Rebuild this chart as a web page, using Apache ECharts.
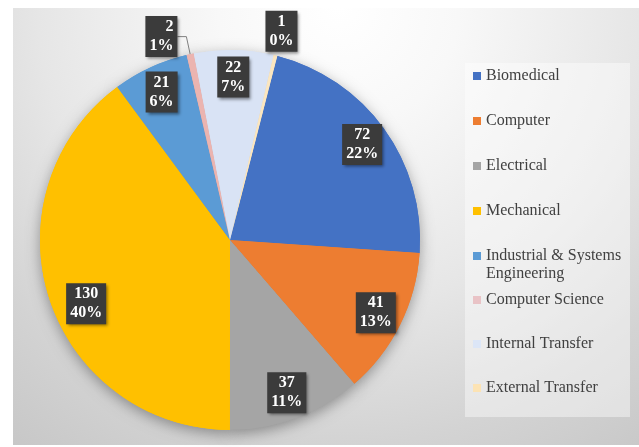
<!DOCTYPE html>
<html>
<head>
<meta charset="utf-8">
<script src="https://cdn.jsdelivr.net/npm/echarts@6/dist/echarts.min.js"></script>
<style>
html,body{margin:0;padding:0;background:#ffffff;}
#chart{width:639px;height:447px;}
</style>
</head>
<body>
<div id="chart"></div>
<script>
// ---- Data ----
const categories = ['Biomedical', 'Computer', 'Electrical', 'Mechanical',
  'Industrial & Systems\nEngineering', 'Computer Science', 'Internal Transfer', 'External Transfer'];
const counts = [72, 41, 37, 130, 21, 2, 22, 1];

// ---- Style ----
const colors = ['#4472C4', '#ED7D31', '#A5A5A5', '#FFC000', '#5B9BD5', '#EBB4B0', '#D9E3F5', '#FBE6C0'];
const legendColors = ['#4472C4', '#ED7D31', '#A5A5A5', '#FFC000', '#5B9BD5', '#E9C3C6', '#DCE6F7', '#FCE3B4'];
const serif = "'Liberation Serif', 'Times New Roman', serif";

const chart = echarts.init(document.getElementById('chart'), null, {renderer: 'canvas'});

const pieCenter = [230, 240];
const pieR = 190;
const startAngle = 75.6;

const labelBox = {
  show: true,
  formatter: '{c}\n{d}%',
  color: '#ffffff',
  fontFamily: serif,
  fontWeight: 'bold',
  fontSize: 16,
  lineHeight: 19,
  backgroundColor: '#3B3B3B',
  padding: [2, 4, 1, 4],
  shadowColor: 'rgba(0,0,0,0.45)',
  shadowBlur: 3,
  shadowOffsetX: 2,
  shadowOffsetY: 2
};

const baseData = categories.map((name, i) => ({
  name: name,
  value: counts[i],
  itemStyle: {color: colors[i]}
}));

// main series: only the small "Computer Science" slice has an outside label with a leader line
const mainData = baseData.map((d, i) => {
  const o = {name: d.name, value: d.value, itemStyle: d.itemStyle};
  if (d.name === 'Computer Science') {
    o.label = Object.assign({}, labelBox, {position: 'outside', distanceToLabelLine: 0});
    o.labelLine = {show: true, length: 18, length2: 9, lineStyle: {color: '#7F7F7F', width: 1}};
  }
  return o;
});

const innerLabelNames = ['Biomedical', 'Computer', 'Electrical', 'Mechanical',
  'Industrial & Systems\nEngineering', 'Internal Transfer'];

const innerLabelData = baseData.map((d) => {
  const o = {name: d.name, value: d.value, itemStyle: {color: 'rgba(0,0,0,0)'}};
  if (innerLabelNames.indexOf(d.name) >= 0) {
    o.label = Object.assign({}, labelBox, {position: 'inside'});
    if (d.name === 'Mechanical') o.label.offset = [11, 13];
  } else {
    o.label = {show: false};
  }
  return o;
});

const outerLabelData = baseData.map((d) => {
  const o = {name: d.name, value: d.value, itemStyle: {color: 'rgba(0,0,0,0)'}};
  if (d.name === 'External Transfer') {
    o.label = Object.assign({}, labelBox, {position: 'inside'});
  } else {
    o.label = {show: false};
  }
  return o;
});

function legendData(names) {
  return names.map((n) => ({
    name: n,
    itemStyle: {color: legendColors[categories.indexOf(n)]}
  }));
}

const legendText = {fontFamily: serif, fontSize: 16, lineHeight: 18, color: '#404040'};

const option = {
  animation: false,
  backgroundColor: '#ffffff',
  graphic: {
    elements: [
      {
        type: 'rect', z: -100, silent: true,
        shape: {x: 13, y: 8, width: 626, height: 437},
        style: {
          fill: {
            type: 'radial', x: 0.52, y: 0.0, r: 1.25,
            colorStops: [
              {offset: 0, color: '#ffffff'},
              {offset: 0.22, color: '#f8f8f8'},
              {offset: 0.55, color: '#e6e6e6'},
              {offset: 0.8, color: '#d3d3d3'},
              {offset: 1, color: '#c7c7c7'}
            ]
          }
        }
      },
      {
        type: 'rect', z: -90, silent: true,
        shape: {x: 465, y: 63, width: 165, height: 354},
        style: {fill: 'rgba(255,255,255,0.42)'}
      }
    ]
  },
  legend: [
    {
      orient: 'vertical', left: 473, top: 67, padding: 0,
      itemWidth: 8, itemHeight: 8, itemGap: 27, icon: 'rect',
      selectedMode: false,
      textStyle: legendText,
      data: legendData(categories.slice(0, 4))
    },
    {
      orient: 'vertical', left: 473, top: 247, padding: 0,
      itemWidth: 8, itemHeight: 26, itemGap: 0,
      icon: 'path://M0,0h8v8h-8zM0,26h0.01v0.01h-0.01z',
      selectedMode: false,
      textStyle: legendText,
      data: legendData(categories.slice(4, 5))
    },
    {
      orient: 'vertical', left: 473, top: 291, padding: 0,
      itemWidth: 8, itemHeight: 8, itemGap: 26, icon: 'rect',
      selectedMode: false,
      textStyle: legendText,
      data: legendData(categories.slice(5))
    }
  ],
  series: [
    {
      // shadow layer beneath the pie
      type: 'pie', z: 1, silent: true,
      center: pieCenter, radius: pieR, startAngle: startAngle, clockwise: true,
      label: {show: false}, labelLine: {show: false},
      itemStyle: {shadowBlur: 14, shadowColor: 'rgba(0,0,0,0.35)', shadowOffsetY: 4, borderWidth: 0},
      legendHoverLink: false,
      data: baseData.map((d) => ({name: d.name, value: d.value, itemStyle: d.itemStyle}))
    },
    {
      type: 'pie', z: 2, silent: true,
      center: pieCenter, radius: pieR, startAngle: startAngle, clockwise: true,
      percentPrecision: 0,
      avoidLabelOverlap: false,
      label: {show: false}, labelLine: {show: false},
      itemStyle: {borderWidth: 0},
      data: mainData
    },
    {
      type: 'pie', z: 3, silent: true,
      center: pieCenter, radius: [130, 190], startAngle: startAngle, clockwise: true,
      percentPrecision: 0,
      avoidLabelOverlap: false,
      labelLine: {show: false},
      data: innerLabelData
    },
    {
      type: 'pie', z: 3, silent: true,
      center: pieCenter, radius: [192, 232], startAngle: startAngle, clockwise: true,
      percentPrecision: 0,
      avoidLabelOverlap: false,
      labelLine: {show: false},
      data: outerLabelData
    }
  ]
};

chart.setOption(option);
</script>
</body>
</html>
